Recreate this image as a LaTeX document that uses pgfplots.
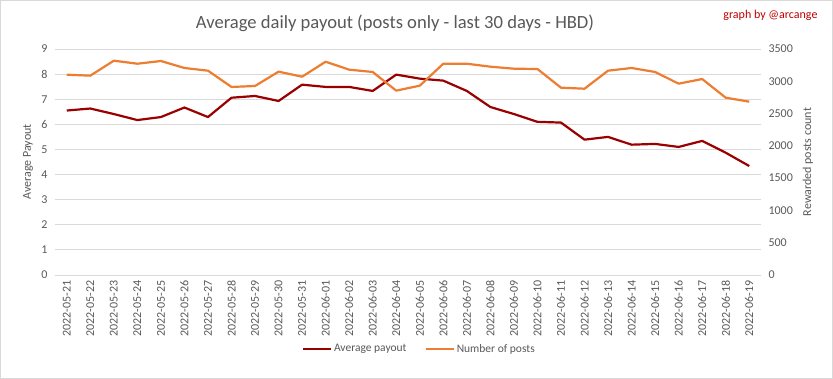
\documentclass[border=0pt]{standalone}
\usepackage{pgfplots}
\pgfplotsset{compat=1.18}
\usepackage{pgfplotstable}
\usepackage{fontspec}
\setmainfont{Carlito}
\definecolor{payred}{HTML}{9B0000}
\definecolor{postorange}{HTML}{ED7D31}
\definecolor{gridgray}{HTML}{D9D9D9}
\definecolor{txtgray}{HTML}{595959}
\definecolor{signred}{HTML}{C00000}

\pgfplotstableread{
idx payout posts
0  6.55 3102
1  6.63 3087
2  6.41 3319
3  6.17 3272
4  6.29 3314
5  6.67 3206
6  6.29 3164
7  7.06 2912
8  7.13 2927
9  6.93 3149
10 7.58 3071
11 7.49 3303
12 7.49 3180
13 7.33 3144
14 7.98 2855
15 7.82 2932
16 7.74 3272
17 7.33 3272
18 6.69 3226
19 6.41 3195
20 6.10 3190
21 6.07 2901
22 5.39 2885
23 5.50 3164
24 5.19 3206
25 5.22 3144
26 5.10 2963
27 5.34 3035
28 4.87 2746
29 4.34 2684
}\data

\pgfplotsset{
  common/.style={
    at={(55pt,104pt)}, anchor=south west, scale only axis,
    width=706pt, height=226pt,
    xmin=-0.5, xmax=29.5,
    axis line style={draw=none},
    major tick style={draw=none},
    tick label style={font=\fontsize{12}{14}\selectfont, text=txtgray},
    /pgf/number format/assume math mode=true,
    /pgf/number format/1000 sep={},
  }
}

\begin{document}
\begin{tikzpicture}
\useasboundingbox (0,0) rectangle (833pt,379pt);
\fill[white] (0,0) rectangle (833pt,379pt);
\draw[gridgray, line width=0.8pt] (0.5pt,0.5pt) rectangle (832.5pt,378.5pt);

\begin{axis}[common,
  ymin=0, ymax=9, ytick={0,1,...,9},
  ymajorgrids, grid style={gridgray, line width=0.8pt},
  yticklabel style={xshift=-4pt},
  xtick={0,...,29},
  xticklabels={2022-05-21,2022-05-22,2022-05-23,2022-05-24,2022-05-25,2022-05-26,2022-05-27,2022-05-28,2022-05-29,2022-05-30,2022-05-31,2022-06-01,2022-06-02,2022-06-03,2022-06-04,2022-06-05,2022-06-06,2022-06-07,2022-06-08,2022-06-09,2022-06-10,2022-06-11,2022-06-12,2022-06-13,2022-06-14,2022-06-15,2022-06-16,2022-06-17,2022-06-18,2022-06-19},
  xticklabel style={rotate=90, anchor=east, yshift=0pt, xshift=-2pt},
  every axis y label/.style={at={(rel axis cs:0,0.5)}, xshift=-27pt, rotate=90, anchor=center,
    font=\fontsize{12}{14}\selectfont, text=txtgray},
  ylabel={Average Payout},
  legend style={at={(rel axis cs:0.516,-0.327)}, anchor=center, draw=none, fill=none,
    font=\fontsize{11.5}{13}\selectfont, text=txtgray,
    legend columns=2, /tikz/every even column/.append style={column sep=16pt},
    inner sep=0pt},
  legend image code/.code={\draw[#1] (0pt,0pt) -- (28pt,0pt);},
]
\draw[gridgray, line width=0.8pt] (axis cs:-0.5,0) -- (axis cs:29.5,0);
\addplot[payred, line width=2.2pt, line join=round] table[x=idx, y=payout] {\data};
\addlegendentry{Average payout}
\addlegendimage{postorange, line width=2.2pt}
\addlegendentry{Number of posts}
\end{axis}

\begin{axis}[common,
  ymin=0, ymax=3500, ytick={0,500,...,3500},
  axis y line*=right, hide x axis,
  yticklabel style={xshift=4pt},
  every axis y label/.style={at={(rel axis cs:1,0.5)}, xshift=47pt, rotate=90, anchor=center,
    font=\fontsize{12}{14}\selectfont, text=txtgray},
  ylabel={Rewarded posts count},
]
\addplot[postorange, line width=2.2pt, line join=round] table[x=idx, y=posts] {\data};
\end{axis}

\node[font=\fontsize{18.6}{21}\selectfont, text=txtgray] at (395pt,356pt) {Average daily payout (posts only - last 30 days - HBD)};
\node[font=\fontsize{12}{14}\selectfont, text=signred, anchor=east] at (821pt,364pt) {graph by @arcange};
\end{tikzpicture}
\end{document}
